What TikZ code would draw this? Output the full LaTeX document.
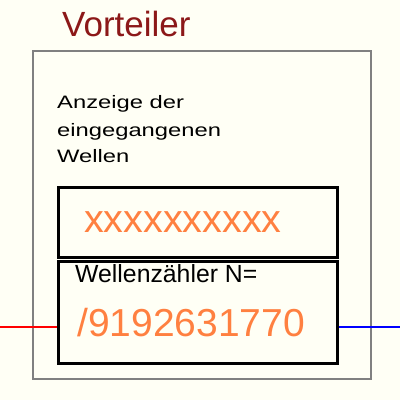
\documentclass[tikz,border=0pt]{standalone}
\usepackage{fontspec}
\setmainfont{Liberation Sans}
\newfontfamily\widefont[FakeStretch=1.32]{Liberation Sans}
\definecolor{cream}{RGB}{255,255,245}
\definecolor{titlered}{RGB}{140,24,24}
\definecolor{digitorange}{RGB}{255,128,64}
\definecolor{framegray}{RGB}{128,128,128}
\tikzset{
  txt/.style = {inner sep=0pt, anchor=base west},
  box/.style = {draw=black, line width=2.6pt, minimum width=279pt, inner sep=0pt}
}
\begin{document}
\begin{tikzpicture}[x=1pt, y=-1pt]
    \fill[cream] (0,0) rectangle (400,400);
    \useasboundingbox (0,0) rectangle (400,400);

    \draw[framegray, line width=2pt] (33,51) rectangle (371,379);
    \node[txt, text=titlered, font=\fontsize{35}{40}\selectfont] (title) at (62,36) {Vorteiler};

    \node[txt, font=\widefont\fontsize{18}{27}\selectfont] (anz1) at (57,108) {Anzeige der};
    \node[txt, font=\widefont\fontsize{18}{27}\selectfont] (anz2) at (57,136) {eingegangenen};
    \node[txt, font=\widefont\fontsize{18}{27}\selectfont] (anz3) at (57,162) {Wellen};

    \node[box, minimum height=70pt, anchor=north west] (anzeige) at (57,186) {};
    \node[box, minimum height=102pt, anchor=north west] (zaehler) at (57,260) {};

    \node[txt, text=digitorange, font=\fontsize{39.5}{44}\selectfont] (xs) at (84,232) {xxxxxxxxxx};
    \node[txt, font=\fontsize{24.8}{28}\selectfont] (wz) at (75,282) {Wellenzähler N=};
    \node[txt, text=digitorange, font=\fontsize{39}{46}\selectfont] (num) at (77,336) {/9192631770};

    \coordinate (ein) at (0,327);
    \coordinate (aus) at (400,327);
    \draw[red, line width=1.6pt] (ein) -- (ein -| zaehler.west);
    \draw[blue, line width=1.6pt] (zaehler.east |- aus) -- (aus);
\end{tikzpicture}
\end{document}
